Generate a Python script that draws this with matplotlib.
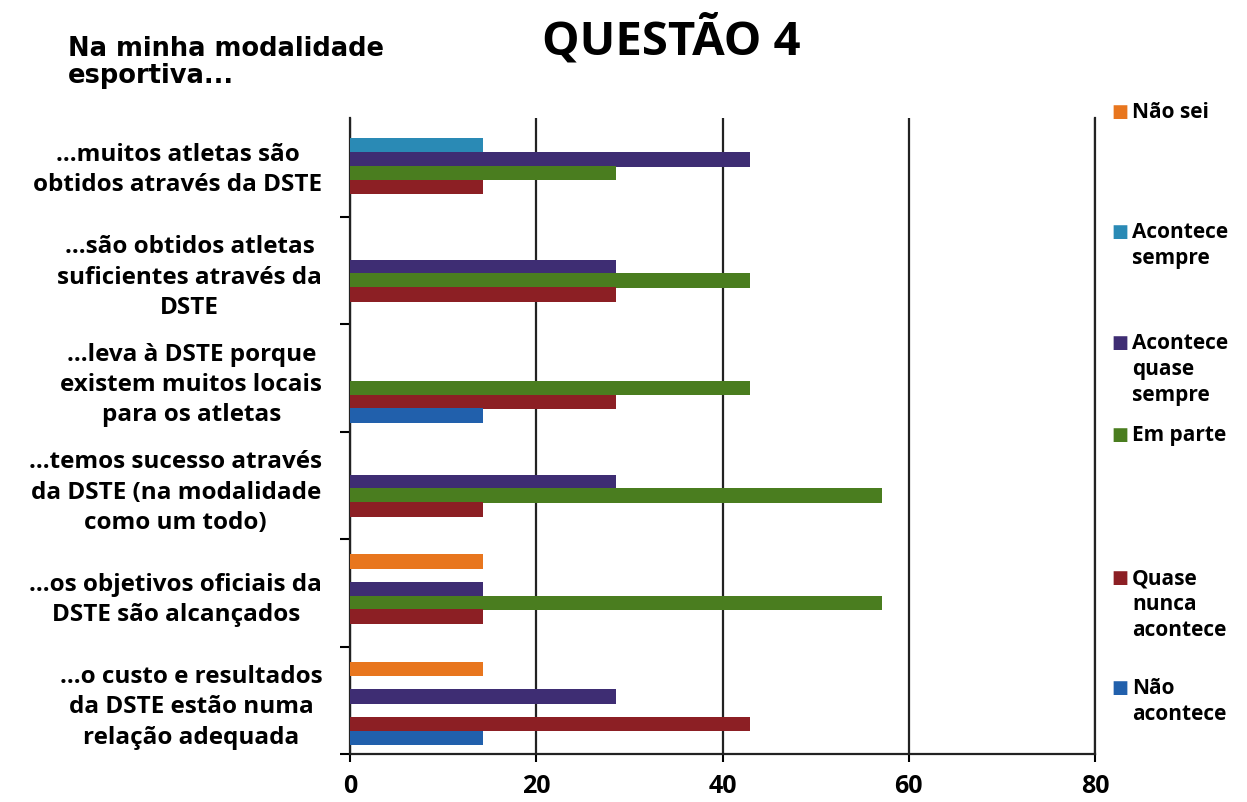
from matplotlib import pyplot as plt
import numpy as np

categories = [
    "...muitos atletas são\nobtidos através da DSTE",
    "...são obtidos atletas\nsuficientes através da\nDSTE",
    "...leva à DSTE porque\nexistem muitos locais\npara os atletas",
    "...temos sucesso através\nda DSTE (na modalidade\ncomo um todo)",
    "...os objetivos oficiais da\nDSTE são alcançados",
    "...o custo e resultados\nda DSTE estão numa\nrelação adequada",
]
series_names = ["Não sei", "Acontece\nsempre", "Acontece\nquase\nsempre", "Em parte",
                "Quase\nnunca\nacontece", "Não\nacontece"]
series_colors = ["#E8761E", "#2A8AB5", "#3E2D73", "#4A7D1F", "#8C1F24", "#2160AC"]

nao_sei = [0, 0, 0, 0, 14.3, 14.3]
acontece_sempre = [14.3, 0, 0, 0, 0, 0]
quase_sempre = [42.9, 28.6, 0, 28.6, 14.3, 28.6]
em_parte = [28.6, 42.9, 42.9, 57.1, 57.1, 0]
quase_nunca = [14.3, 28.6, 28.6, 14.3, 14.3, 42.9]
nao_acontece = [0, 0, 14.3, 0, 0, 14.3]
series_values = [nao_sei, acontece_sempre, quase_sempre, em_parte, quase_nunca, nao_acontece]

x_ticks = [0, 20, 40, 60, 80]

# legend text positions (figure pixels from top), like the original layout
legend_y = [112, 232, 343, 435, 578, 688]

W, H = 1247, 803
fig = plt.figure(figsize=(W / 100, H / 100), dpi=100)
ax = fig.add_axes([350 / W, 1 - 755 / H, (1095 - 350) / W, (755 - 119) / H])

slot = 0.128
pos = np.arange(len(categories))
for k, vals in enumerate(series_values):
    ax.barh(pos + (k - 2.5) * slot + 0.03, vals, height=0.135, color=series_colors[k], zorder=3)

ax.set_xlim(0, 80)
ax.set_ylim(5.5, -0.42)
ax.set_xticks(x_ticks)
ax.set_xticklabels([str(t) for t in x_ticks], fontsize=18, fontweight='bold', family='Open Sans')
ax.tick_params(axis='x', length=6, width=1.5, pad=8)

ax.set_yticks(pos)
ax.set_yticklabels(categories, fontsize=17.5, fontweight='bold', family='Open Sans',
                   multialignment='center', linespacing=1.35)
ax.tick_params(axis='y', length=0, pad=20)
ax.set_yticks(np.arange(0.5, 6, 1), minor=True)
ax.tick_params(axis='y', which='minor', length=7, width=1.5)

ax.grid(axis='x', color='#222222', linewidth=1.6, zorder=0)
ax.spines['top'].set_visible(False)
for s in ['left', 'bottom', 'right']:
    ax.spines[s].set_linewidth(1.6)
    ax.spines[s].set_color('#222222')

fig.text(671 / W, 1 - 40 / H, "QUESTÃO 4", ha='center', va='center',
         fontsize=34, fontweight='bold', family='Open Sans')
fig.text(68 / W, 1 - 36 / H, "Na minha modalidade\nesportiva...", ha='left', va='top',
         fontsize=18.5, fontweight='bold', family='DejaVu Sans', linespacing=1.05)

for name, color, y in zip(series_names, series_colors, legend_y):
    fig.text(1111 / W, 1 - y / H, "■", color=color, ha='left', va='center', fontsize=13,
             family='DejaVu Sans')
    fig.text(1132 / W, 1 - (y - 10) / H, name, ha='left', va='top', fontsize=15,
             fontweight='bold', family='Open Sans', linespacing=1.3)

fig.savefig('out.png', dpi=100)
